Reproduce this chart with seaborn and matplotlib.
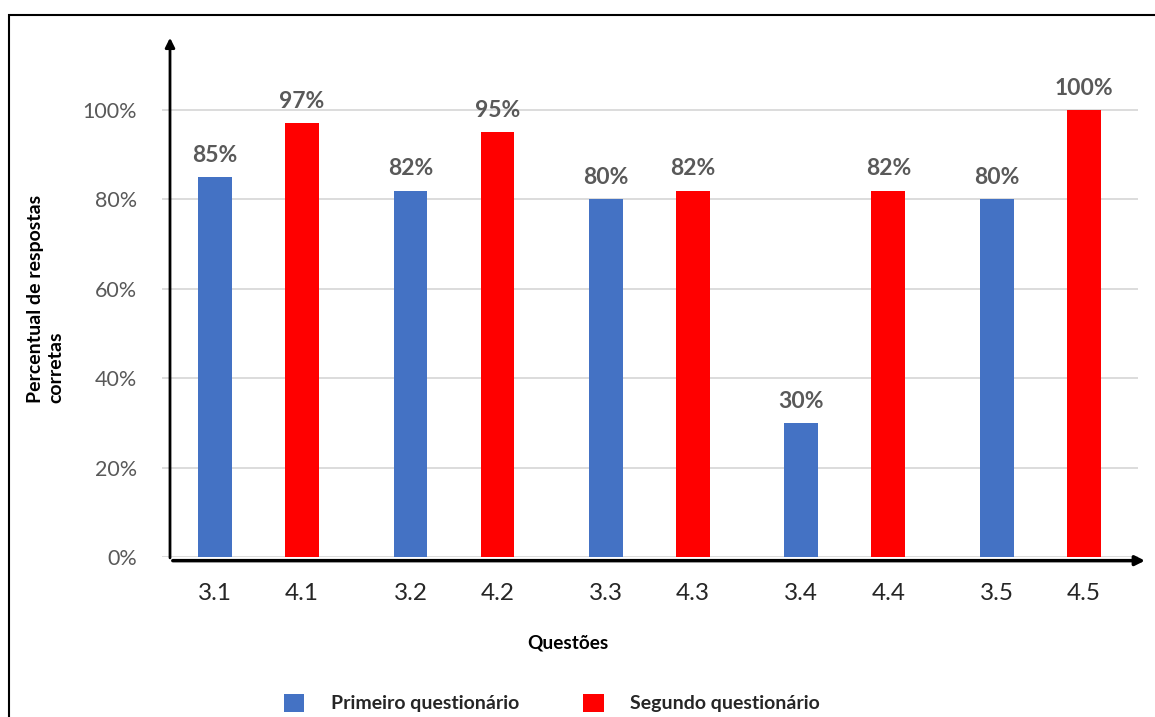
import matplotlib
matplotlib.use("Agg")
import matplotlib.pyplot as plt
from matplotlib.patches import Rectangle
from matplotlib.ticker import FuncFormatter
import pandas as pd
import seaborn as sns

questoes_1 = ['3.1', '3.2', '3.3', '3.4', '3.5']
questoes_2 = ['4.1', '4.2', '4.3', '4.4', '4.5']
acertos_1 = [85, 82, 80, 30, 80]
acertos_2 = [97, 95, 82, 82, 100]
series = ['Primeiro questionário', 'Segundo questionário']
cores = ['#4472C4', '#FF0000']

rows = []
for i in range(5):
    rows.append({'par': i, 'questao': questoes_1[i], 'valor': acertos_1[i], 'quest': series[0]})
    rows.append({'par': i, 'questao': questoes_2[i], 'valor': acertos_2[i], 'quest': series[1]})
df = pd.DataFrame(rows)

sns.set_theme(style='white')
plt.rcParams['font.family'] = ['Lato', 'DejaVu Sans']

fig = plt.figure(figsize=(11.55, 7.17), dpi=100)
ax = fig.add_axes([162 / 1155, 160 / 717, 976 / 1155, 522 / 717])

sns.barplot(data=df, x='par', y='valor', hue='quest', hue_order=series,
            palette=cores, saturation=1, width=0.89, gap=0.61, linewidth=0, ax=ax)

ax.set_xlim(-0.494, 4.5)
ax.set_ylim(0, 116.8)
ax.set_yticks([0, 20, 40, 60, 80, 100])
ax.yaxis.set_major_formatter(FuncFormatter(lambda v, p: f'{v:.0f}%'))
ax.grid(axis='y', color='#D9D9D9', linewidth=1.3)
ax.set_axisbelow(True)
for s in ax.spines.values():
    s.set_visible(False)
ax.tick_params(axis='y', length=0, pad=18, labelsize=15.5, labelcolor='#595959')
ax.tick_params(axis='x', length=0, pad=19, labelsize=17.5, labelcolor='#262626')

# one tick label under each bar
pos, labs = [], []
for cont, nomes in zip(ax.containers, [questoes_1, questoes_2]):
    for bar, nome in zip(cont, nomes):
        pos.append(bar.get_x() + bar.get_width() / 2)
        labs.append(nome)
    ax.bar_label(cont, labels=[f'{v:.0f}%' for v in cont.datavalues], padding=8,
                 fontsize=16.5, fontweight='bold', color='#595959')
ax.set_xticks(pos)
ax.set_xticklabels(labs)

# arrow axes
ax.annotate('', xy=(0.0082, 1.0), xytext=(0.0082, -0.007), xycoords='axes fraction',
            arrowprops=dict(arrowstyle='-|>', color='black', lw=2, mutation_scale=14),
            annotation_clip=False)
ax.annotate('', xy=(1.01, -0.007), xytext=(0.0082, -0.007), xycoords='axes fraction',
            arrowprops=dict(arrowstyle='-|>', color='black', lw=2.5, mutation_scale=14),
            annotation_clip=False)

ax.set_xlabel('Questões', fontsize=13.7, fontweight='bold', color='black', va='center')
ax.xaxis.set_label_coords(0.416, -0.165)
ax.set_ylabel('Percentual de respostas\ncorretas', fontsize=14, fontweight='bold',
              color='black', va='center', ha='center', multialignment='left')
ax.yaxis.set_label_coords(-0.119, 0.494)

sns.move_legend(ax, 'center left', bbox_to_anchor=(284 / 1155, 14 / 717),
                bbox_transform=fig.transFigure, ncol=2, frameon=False, title=None,
                fontsize=14, handlelength=1.05, handleheight=1.1, handletextpad=1.35,
                columnspacing=3.3, borderpad=0, borderaxespad=0)
for t in ax.get_legend().get_texts():
    t.set_fontweight('bold')

fig.add_artist(Rectangle((9 / 1155, -0.5), 2, 702 / 717 + 0.5, transform=fig.transFigure,
                         fill=False, edgecolor='black', linewidth=1.5))

fig.savefig('out.png', dpi=100)
